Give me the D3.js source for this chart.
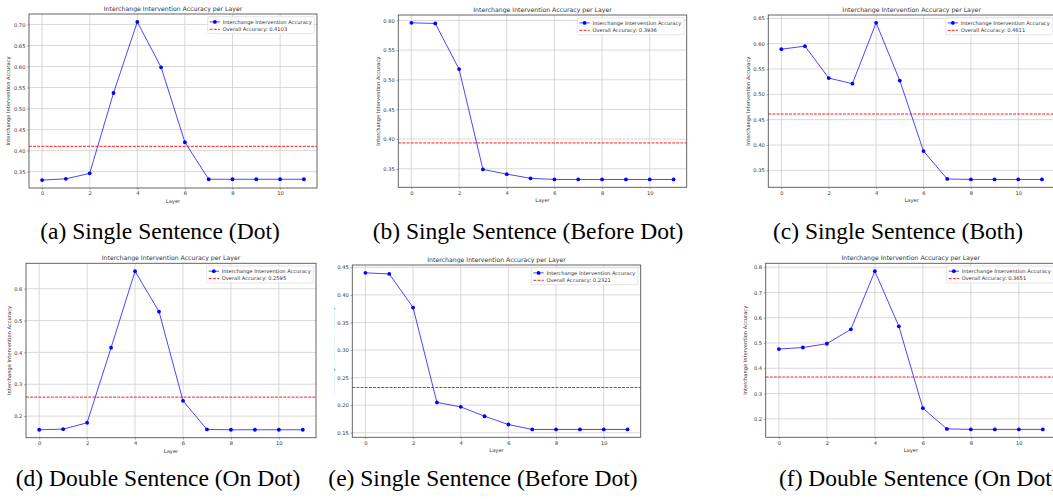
<!DOCTYPE html>
<html>
<head>
<meta charset="utf-8">
<script src="https://cdn.jsdelivr.net/npm/d3@7"></script>
<style>
  body { margin: 0; background: #fff; }
  svg { display: block; }
</style>
</head>
<body>
<div id="chart"></div>
<script>
(function(){

  // layers on the x axis and the per-layer accuracies
  var layers = [0, 1, 2, 3, 4, 5, 6, 7, 8, 9, 10, 11]
  var xTicks = [0, 2, 4, 6, 8, 10]

  var accA = [0.330, 0.333, 0.346, 0.537, 0.706, 0.598, 0.420, 0.332, 0.332, 0.332, 0.332, 0.332]
  var accB = [0.596, 0.595, 0.518, 0.349, 0.341, 0.334, 0.332, 0.332, 0.332, 0.332, 0.332, 0.332]
  var accC = [0.589, 0.595, 0.532, 0.521, 0.641, 0.527, 0.388, 0.333, 0.332, 0.332, 0.332, 0.332]
  var accD = [0.157, 0.159, 0.179, 0.415, 0.655, 0.528, 0.248, 0.158, 0.157, 0.157, 0.157, 0.157]
  var accE = [0.440, 0.438, 0.377, 0.205, 0.197, 0.180, 0.165, 0.156, 0.156, 0.156, 0.156, 0.156]
  var accF = [0.476, 0.482, 0.497, 0.554, 0.784, 0.566, 0.242, 0.160, 0.158, 0.158, 0.158, 0.158]

  var overall = [0.4103, 0.3936, 0.4611, 0.2595, 0.2321, 0.3651]

  var yTicksA = [0.35, 0.40, 0.45, 0.50, 0.55, 0.60, 0.65, 0.70]
  var yTicksB = [0.35, 0.40, 0.45, 0.50, 0.55, 0.60]
  var yTicksC = [0.35, 0.40, 0.45, 0.50, 0.55, 0.60, 0.65]
  var yTicksD = [0.2, 0.3, 0.4, 0.5, 0.6]
  var yTicksE = [0.15, 0.20, 0.25, 0.30, 0.35, 0.40, 0.45]
  var yTicksF = [0.2, 0.3, 0.4, 0.5, 0.6, 0.7, 0.8]

  var captions = [
    '(a) Single Sentence (Dot)',
    '(b) Single Sentence (Before Dot)',
    '(c) Single Sentence (Both)',
    '(d) Double Sentence (On Dot)',
    '(e) Single Sentence (Before Dot)',
    '(f) Double Sentence (On Dot)'
  ]

  var title = 'Interchange Intervention Accuracy per Layer'
  var seriesName = 'Interchange Intervention Accuracy'

  // where each small matplotlib figure sits on the page
  var panels = [
    { acc: accA, ticks: yTicksA, fmt: '.2f', left: 29,    right: 317,  top: 14,    bottom: 188,   capX: 160, capY: 239, capAnchor: 'middle' },
    { acc: accB, ticks: yTicksB, fmt: '.2f', left: 398.3, right: 686.7, top: 15,   bottom: 187.3, capX: 528, capY: 239, capAnchor: 'middle' },
    { acc: accC, ticks: yTicksC, fmt: '.2f', left: 768.3, right: 1055, top: 15,    bottom: 187.3, capX: 898, capY: 239, capAnchor: 'middle' },
    { acc: accD, ticks: yTicksD, fmt: '.1f', left: 26,    right: 316,  top: 263.3, bottom: 437.7, capX: 158, capY: 486, capAnchor: 'middle', ylabDx: 17 },
    { acc: accE, ticks: yTicksE, fmt: '.2f', left: 352.3, right: 640.7, top: 265,  bottom: 437.3, capX: 483, capY: 486, capAnchor: 'middle', clipLeft: 334 },
    { acc: accF, ticks: yTicksF, fmt: '.1f', left: 765.7, right: 1056, top: 263.3, bottom: 437.3, capX: 779, capY: 486, capAnchor: 'start' }
  ]

  var W = 1053, H = 499
  var sans = 'DejaVu Sans, sans-serif'
  var small = 5.15

  var svg = d3.select('#chart').append('svg')
    .attr('width', W)
    .attr('height', H)

  var defs = svg.append('defs')

  panels.forEach(function(p, i){
    var data = layers.map(function(l, j){ return { layer: l, acc: p.acc[j] } })

    // matplotlib style 5% margins on both axes
    var ext = d3.extent(p.acc)
    var pad = (ext[1] - ext[0]) * 0.05
    var x = d3.scaleLinear().domain([-0.55, 11.55]).range([p.left, p.right])
    var y = d3.scaleLinear().domain([ext[0] - pad, ext[1] + pad]).range([p.bottom, p.top])

    var g = svg.append('g').attr('class', 'panel')
    if (p.clipLeft) {
      defs.append('clipPath').attr('id', 'clip' + i)
        .append('rect').attr('x', p.clipLeft).attr('y', 0).attr('width', W).attr('height', H)
      g.attr('clip-path', 'url(#clip' + i + ')')
    }

    // grid
    g.append('g').selectAll('line.vx')
      .data(xTicks).enter().append('line')
      .attr('x1', function(d){ return x(d) }).attr('x2', function(d){ return x(d) })
      .attr('y1', p.top).attr('y2', p.bottom)
      .style('stroke', '#cfcfcf').style('stroke-width', 0.8)
    g.append('g').selectAll('line.hy')
      .data(p.ticks).enter().append('line')
      .attr('x1', p.left).attr('x2', p.right)
      .attr('y1', function(d){ return y(d) }).attr('y2', function(d){ return y(d) })
      .style('stroke', '#cfcfcf').style('stroke-width', 0.8)

    // accuracy line + markers
    var line = d3.line().x(function(d){ return x(d.layer) }).y(function(d){ return y(d.acc) })
    g.append('path')
      .datum(data)
      .attr('d', line)
      .style('fill', 'none')
      .style('stroke', '#0000ff')
      .style('stroke-opacity', 0.8)
      .style('stroke-width', 0.9)
    g.append('g').selectAll('circle')
      .data(data).enter().append('circle')
      .attr('cx', function(d){ return x(d.layer) })
      .attr('cy', function(d){ return y(d.acc) })
      .attr('r', 1.9)
      .style('fill', '#0000ff')

    // overall accuracy
    g.append('line')
      .attr('x1', p.left).attr('x2', p.right)
      .attr('y1', y(overall[i])).attr('y2', y(overall[i]))
      .style('stroke', '#ff0000')
      .style('stroke-width', 0.9)
      .style('stroke-dasharray', '2.9,1.25')

    // frame
    g.append('rect')
      .attr('x', p.left).attr('y', p.top)
      .attr('width', p.right - p.left).attr('height', p.bottom - p.top)
      .style('fill', 'none')
      .style('stroke', '#555')
      .style('stroke-width', 0.9)

    // axes
    var xAxis = d3.axisBottom(x).tickValues(xTicks).tickSize(1.8).tickSizeOuter(0).tickPadding(1.8)
    var yAxis = d3.axisLeft(y).tickValues(p.ticks).tickFormat(d3.format(p.fmt)).tickSize(1.8).tickSizeOuter(0).tickPadding(1.8)
    var gx = g.append('g').attr('transform', 'translate(0,' + p.bottom + ')').call(xAxis)
    var gy = g.append('g').attr('transform', 'translate(' + p.left + ',0)').call(yAxis)
    ;[gx, gy].forEach(function(a){
      a.select('.domain').remove()
      a.selectAll('line').style('stroke', '#555').style('stroke-width', 0.5)
      a.selectAll('text').style('font-family', sans).style('font-size', small + 'px').style('fill', '#333')
    })

    // title and axis labels
    g.append('text')
      .attr('x', (p.left + p.right) / 2).attr('y', p.top - 3.2)
      .attr('text-anchor', 'middle')
      .style('font-family', sans).style('font-size', '6.2px').style('fill', '#333')
      .text(title)
    g.append('text')
      .attr('x', (p.left + p.right) / 2).attr('y', p.bottom + 15)
      .attr('text-anchor', 'middle')
      .style('font-family', sans).style('font-size', small + 'px').style('fill', '#333')
      .text('Layer')
    var yl = p.left - (p.ylabDx || 20.5)
    var ym = (p.top + p.bottom) / 2
    g.append('text')
      .attr('transform', 'translate(' + yl + ',' + ym + ') rotate(-90)')
      .attr('text-anchor', 'middle')
      .attr('dy', '0.35em')
      .style('font-family', sans).style('font-size', small + 'px').style('fill', '#333')
      .text(seriesName)

    // legend (upper right)
    var leg = g.append('g')
    var box = leg.append('rect')
    var t1 = leg.append('text').text(seriesName)
    var t2 = leg.append('text').text('Overall Accuracy: ' + d3.format('.4f')(overall[i]))
    leg.selectAll('text').style('font-family', sans).style('font-size', small + 'px').style('fill', '#333')
    var tw = Math.max(t1.node().getComputedTextLength(), t2.node().getComputedTextLength())
    var bw = 15 + tw + 2.6, bh = 17
    var bx = p.right - 2.7 - bw, by = p.top + 2.7
    box.attr('x', bx).attr('y', by).attr('width', bw).attr('height', bh).attr('rx', 1)
      .style('fill', '#fff').style('fill-opacity', 0.85)
      .style('stroke', '#d5d5d5').style('stroke-width', 0.6)
    var r1 = by + 5.2, r2 = by + 12.6
    t1.attr('x', bx + 15).attr('y', r1).attr('dy', '0.35em')
    t2.attr('x', bx + 15).attr('y', r2).attr('dy', '0.35em')
    leg.append('line')
      .attr('x1', bx + 2).attr('x2', bx + 12.3).attr('y1', r1).attr('y2', r1)
      .style('stroke', '#0000ff').style('stroke-opacity', 0.8).style('stroke-width', 0.9)
    leg.append('circle')
      .attr('cx', bx + 7.15).attr('cy', r1).attr('r', 1.9)
      .style('fill', '#0000ff')
    leg.append('line')
      .attr('x1', bx + 2).attr('x2', bx + 12.3).attr('y1', r2).attr('y2', r2)
      .style('stroke', '#ff0000').style('stroke-width', 0.9)
      .style('stroke-dasharray', '2.9,1.25')

    // sub-figure caption
    svg.append('text')
      .attr('x', p.capX).attr('y', p.capY)
      .attr('text-anchor', p.capAnchor)
      .style('font-family', 'Liberation Serif, Times New Roman, serif')
      .style('font-size', '23.5px')
      .style('fill', '#000')
      .text(captions[i])
  })

})()
</script>
</body>
</html>
